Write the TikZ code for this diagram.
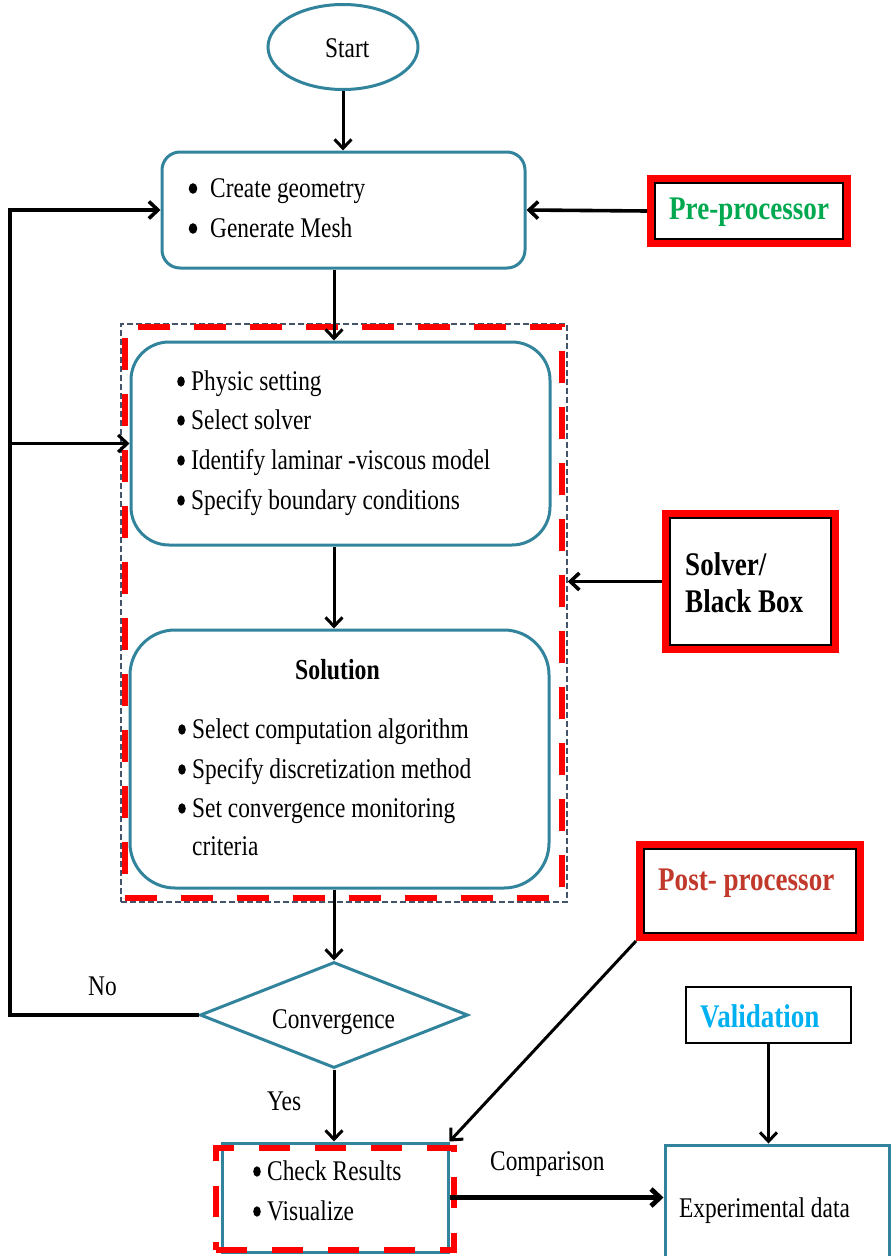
\documentclass[tikz,border=0pt]{standalone}
\usepackage{fontspec}
\setmainfont[FakeStretch=0.82]{Liberation Serif}
\usetikzlibrary{arrows.meta,shapes.geometric,fit,calc}
\definecolor{tealc}{RGB}{49,132,155}
\definecolor{preg}{RGB}{0,168,80}
\definecolor{postr}{RGB}{192,57,43}
\definecolor{valb}{RGB}{0,176,240}
\definecolor{regb}{RGB}{68,84,106}
\begin{document}
\begin{tikzpicture}[x=1pt,y=-1pt,
  tbox/.style={draw=tealc, line width=3pt, inner sep=0pt},
  kbox/.style={draw=black, line width=2pt, inner sep=0pt},
  redframe/.style={draw=red, line width=7pt, inner sep=3.5pt},
  arr/.style={-{Straight Barb[length=9pt,width=17pt]}, line width=3pt, black},
  txt/.style={anchor=base west, inner sep=0pt, font=\fontsize{28.5}{31}\selectfont},
  btxt/.style={anchor=base west, inner sep=0pt, font=\fontsize{33}{36}\selectfont\bfseries},
  bdot/.style={fill=black}]
\useasboundingbox (0,0) rectangle (892,1256);

% ---- shapes ----
\node[tbox, ellipse, minimum width=150pt, minimum height=85pt] (start) at (343,47) {};
\node[tbox, rounded corners=18pt, minimum width=363pt, minimum height=116pt] (box1) at (343.5,210) {};

\node[kbox, minimum width=188pt, minimum height=56pt] (pre) at (749,211) {};
\node[redframe, fit=(pre)] (preR) {};

\node[draw=regb, line width=1.5pt, dash pattern=on 6pt off 3pt, inner sep=0pt,
      minimum width=446pt, minimum height=578pt] (region) at (344,613) {};
\node[tbox, rounded corners=38pt, minimum width=419pt, minimum height=203pt] (box2a) at (340.5,443.5) {};
\node[tbox, rounded corners=45pt, minimum width=419pt, minimum height=258pt] (box2b) at (339.5,759) {};
\node[draw=red, line width=6.5pt, dash pattern=on 32pt off 24pt, inner sep=0pt,
      minimum width=437pt, minimum height=571pt] (regionR) at (343.5,612.5) {};

\node[kbox, minimum width=161pt, minimum height=127pt] (solv) at (750.5,581.5) {};
\node[redframe, fit=(solv)] (solvR) {};

\node[kbox, minimum width=212pt, minimum height=84pt] (post) at (750,891) {};
\node[redframe, fit=(post)] (postR) {};

\node[tbox, diamond, aspect=2.53, minimum width=268pt, minimum height=106pt] (conv) at (334,1015) {};

\node[tbox, minimum width=226pt, minimum height=109pt] (check) at (335,1197.5) {};
\node[draw=red, line width=6.5pt, dash pattern=on 31pt off 25pt, inner sep=0pt,
      minimum width=238pt, minimum height=102pt] (checkR) at (335,1199) {};

\node[kbox, line width=2.5pt, minimum width=165pt, minimum height=56pt] (valid) at (768.5,1015) {};
\node[tbox, minimum width=224pt, minimum height=117pt] (exp) at (777,1203.5) {};

% ---- connectors ----
\draw[arr] (start.south) -- (start.south |- box1.north);
\draw[arr, line width=3.6pt] (preR.west) -- (box1.east);
\draw[arr] (box1.south -| conv.north) -- (box2a.north -| conv.north);
\draw[arr] (box2a.south -| conv.north) -- (box2b.north -| conv.north);
\draw[arr, line width=3.6pt] (solvR.west) -- (solvR.west -| region.east);
\draw[arr] (box2b.south -| conv.north) -- (conv.north);
\coordinate (fbtop) at (10,210);
\draw[arr, line width=3.6pt] (conv.west) -- (conv.west -| fbtop) -- (fbtop) -- (box1.west);
\draw[arr, line width=3.2pt] (box2a.west -| fbtop) -- (box2a.west);
\draw[arr] (conv.south) -- (conv.south |- check.north);
\draw[arr] (postR.south west) -- (check.north east);
\draw[arr, line width=4.8pt] (check.east) -- (check.east -| exp.west);
\draw[arr] (valid.south) -- (valid.south |- exp.north);

% ---- texts ----
\node[txt] (tstart) at (325,57) {Start};
\node[txt] (t1a) at (210,197) {Create geometry};
\node[txt] (t1b) at (210,237) {Generate Mesh};
\node[btxt, text=preg] (tpre) at (669,219) {Pre-processor};

\node[txt] (t2a) at (191,390) {Physic setting};
\node[txt] (t2b) at (191,429) {Select solver};
\node[txt] (t2c) at (191,469) {Identify laminar -viscous model};
\node[txt] (t2d) at (191,509) {Specify boundary conditions};

\node[btxt] (tsv1) at (685,575) {Solver/};
\node[btxt] (tsv2) at (685,612) {Black Box};

\node[txt, font=\fontsize{29}{31}\selectfont\bfseries] (tsol) at (295,679) {Solution};
\node[txt] (t3a) at (192,738) {Select computation algorithm};
\node[txt] (t3b) at (192,778) {Specify discretization method};
\node[txt] (t3c) at (192,817) {Set convergence monitoring};
\node[txt] (t3d) at (192,855) {criteria};

\node[btxt, text=postr] (tpost) at (658,890) {Post- processor};
\node[txt] (tconv) at (272,1028) {Convergence};
\node[txt] (tno) at (88,995) {No};
\node[txt] (tyes) at (267,1110) {Yes};
\node[btxt, text=valb] (tval) at (700,1027) {Validation};
\node[txt] (t4a) at (267,1180) {Check Results};
\node[txt] (t4b) at (267,1220) {Visualize};
\node[txt] (tcomp) at (490,1170) {Comparison};
\node[txt] (texp) at (679,1217) {Experimental data};

% ---- bullets ----
\foreach \t in {t1a,t1b}
  \fill[bdot] ($(\t.base west)+(-17,-8.5)$) ellipse (4.3pt and 5.3pt);
\foreach \t in {t2a,t2b,t2c,t2d,t3a,t3b,t3c,t4a,t4b}
  \fill[bdot] ($(\t.base west)+(-10,-8.5)$) ellipse (3.8pt and 5.2pt);
\end{tikzpicture}
\end{document}
